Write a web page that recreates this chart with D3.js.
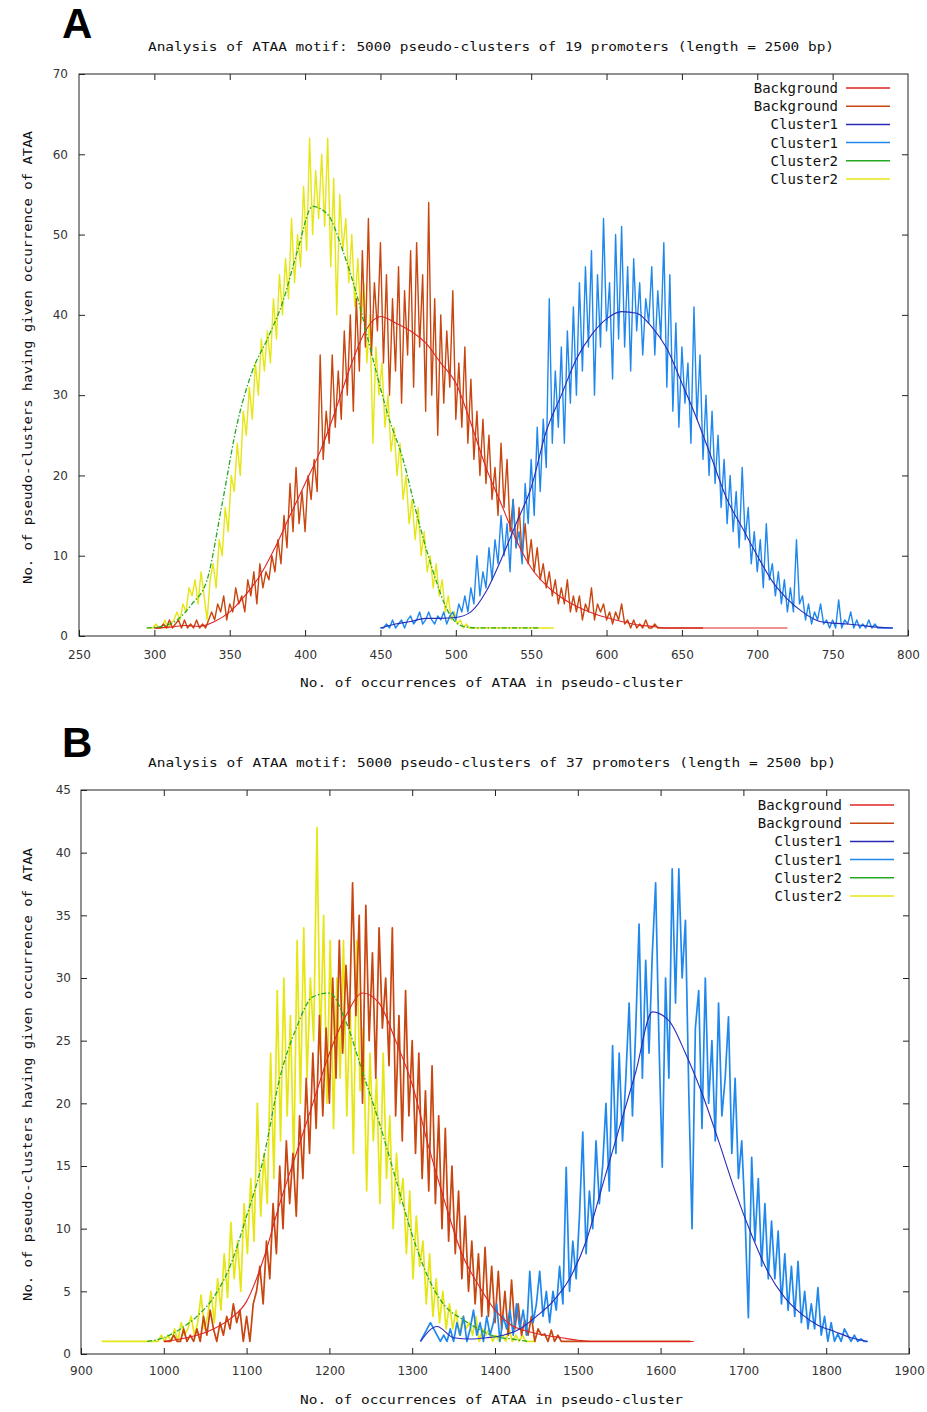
<!DOCTYPE html>
<html lang="en">
<head>
<meta charset="UTF-8">
<title>ATAA motif pseudo-clusters</title>
<script src="https://d3js.org/d3.v7.min.js"></script>
<style>
  body { margin: 0; background: #fff; }
  svg { display: block; }
  .tick text { font-family: "DejaVu Sans", sans-serif; font-size: 12px; fill: #333; }
  .tick line { stroke: #222; }
  .mono { font-family: "DejaVu Sans Mono", monospace; fill: #111; }
</style>
</head>
<body>
<svg width="927" height="1412"></svg>
<script>
// ---------- Panel A (19 promoters) ----------
const xTicksA = [250, 300, 350, 400, 450, 500, 550, 600, 650, 700, 750, 800];
const yTicksA = [0, 10, 20, 30, 40, 50, 60, 70];

// smooth curves, every 10 occurrences
const bgSmoothA = [1, 1.1, 1.3, 1.2, 1.8, 3, 5, 7.5, 11, 15,
  19, 23, 28, 33.5, 38, 39.8, 39, 38, 36.5, 34,
  31.5, 26.5, 21, 16.5, 12, 8.5, 6.3, 4.8, 3.7, 2.9,
  2.3, 1.8, 1.4, 1.2, 1, 1, 1, 1, 1, 1, 1, 1, 1];          // from 300
const c1SmoothA = [1, 1.5, 1.8, 2.2, 2.2, 2.3, 3, 5.5, 9.5, 14,
  18.5, 25.5, 30, 34.5, 37.5, 39.5, 40.4, 40.2, 38.5, 35.8,
  31.5, 27, 22, 17, 13.5, 10, 6.8, 4.6, 3, 1.9,
  1.6, 1.5, 1.3, 1.1, 1];                                  // from 450
const c2SmoothA = [1, 1.2, 2, 4, 7, 16.5, 26.5, 33, 37, 41.5,
  48, 53.5, 52.5, 48, 42, 34.5, 27.5, 22, 14.5, 8,
  3, 1.2, 1, 1, 1, 1, 1];                                  // from 295

// raw counts, every 2 occurrences
const bgRawA = [1, 1, 1, 1.5, 1, 2, 1, 1.5, 2, 1,
  2, 1, 1.5, 1, 2, 1, 1.5, 1, 2, 3,
  2, 4, 3, 5, 2, 4, 3, 6, 4, 5,
  3, 7, 5, 8, 4, 9, 6, 8, 7, 10,
  8, 12, 9, 15, 11, 19, 13, 21, 14, 18,
  13, 20, 17, 22, 18, 35, 22, 28, 24, 35,
  26, 33, 27, 38, 30, 40, 28, 42, 33, 48,
  36, 52, 35, 44, 38, 49, 34, 45, 30, 42,
  33, 46, 29, 43, 35, 48, 31, 49, 36, 45,
  28, 54, 30, 42, 25, 40, 29, 38, 31, 43,
  27, 34, 26, 36, 24, 32, 22, 28, 20, 27,
  19, 25, 17, 21, 15, 24, 16, 22, 13, 17,
  11, 16, 10, 14, 9, 12, 8, 11, 7, 9,
  6, 8, 5, 7, 4, 6, 4, 7, 3, 5,
  3, 5, 2, 4, 3, 6, 2, 4, 3, 4,
  2, 3, 1.5, 3, 2, 4, 1.5, 2, 1, 2,
  1, 1.5, 1, 2, 1, 1, 1.5, 1, 1, 1,
  1, 1, 1, 1, 1, 1, 1, 1, 1, 1, 1, 1, 1];                 // from 300
const c1RawA = [1, 1, 1.5, 1, 2, 1, 1.5, 2, 1, 2,
  2.5, 1.5, 2, 3, 1.5, 2, 3, 2, 1.5, 2.5,
  2, 3, 1.5, 2.5, 3, 2, 4, 3, 5, 3,
  6, 4, 10, 5, 8, 6, 11, 7, 12, 9,
  15, 10, 14, 8, 17, 11, 13, 9, 19, 14,
  22, 15, 26, 18, 27, 21, 42, 24, 33, 26,
  36, 24, 38, 29, 41, 30, 44, 33, 46, 36,
  48, 30, 45, 36, 52, 38, 44, 32, 50, 37,
  51, 36, 46, 33, 47, 38, 44, 35, 42, 39,
  46, 35, 43, 37, 49, 31, 45, 28, 39, 26,
  36, 29, 34, 24, 41, 27, 35, 22, 30, 20,
  28, 19, 25, 16, 22, 14, 20, 13, 18, 11,
  21, 12, 16, 9, 13, 8, 12, 6, 14, 7,
  9, 5, 8, 4, 7, 3, 6, 3, 12, 4,
  5, 2, 4, 1.5, 3, 2, 4, 1.5, 2, 1,
  2, 1, 4.5, 1, 2, 1.5, 3, 1, 2, 1,
  1.5, 1, 2, 1, 1.5, 1, 1, 1, 1, 1, 1];                   // from 450
const c2RawA = [1, 1, 1, 1.5, 1, 1, 2, 1, 1.5, 2,
  3, 2, 4, 3, 6, 5, 7, 4, 8, 5,
  2, 7, 9, 6, 12, 10, 16, 13, 20, 18,
  24, 20, 28, 25, 31, 27, 34, 30, 37, 33,
  38, 34, 42, 37, 45, 40, 47, 42, 52, 44,
  50, 46, 56, 48, 62, 50, 58, 52, 60, 51,
  62, 46, 57, 40, 55, 48, 52, 44, 50, 41,
  47, 39, 44, 34, 40, 24, 36, 30, 34, 26,
  30, 23, 26, 20, 24, 17, 20, 14, 17, 12,
  16, 10, 13, 8, 10, 6, 9, 5, 7, 3,
  5, 2, 3, 1.5, 2, 1, 1.5, 1, 1, 1,
  1, 1, 1, 1, 1, 1, 1, 1, 1, 1,
  1, 1, 1, 1, 1, 1, 1, 1, 1, 1, 1, 1, 1, 1, 1, 1];       // from 295

// ---------- Panel B (37 promoters) ----------
const xTicksB = [900, 1000, 1100, 1200, 1300, 1400, 1500, 1600, 1700, 1800, 1900];
const yTicksB = [0, 5, 10, 15, 20, 25, 30, 35, 40, 45];

// smooth curves, every 20 occurrences
const bgSmoothB = [1, 1.2, 1.5, 2, 2.8, 4.2, 7.5, 12, 16, 20,
  24, 27, 28.8, 28, 25, 21.5, 16.5, 12, 8, 5.5,
  3.5, 2.3, 1.8, 1.5, 1.3, 1.1, 1, 1, 1, 1, 1, 1, 1];     // from 1000
const c1SmoothB = [1, 2.2, 1.3, 1.2, 1.3, 1.5, 2, 3, 4.2, 6,
  9, 13.5, 18, 22.5, 27.3, 26.6, 24, 20.8, 17, 13,
  9.5, 6.5, 4.5, 3.2, 2.3, 1.8, 1.3, 1];                   // from 1310
const c2SmoothB = [1, 1.3, 2, 3, 4.5, 7, 11, 15.5, 22, 26,
  28.5, 28.8, 26.5, 22.5, 18.5, 14, 9.5, 6, 3.8, 2.8,
  2, 1.4, 1.2, 1];                                         // from 980

// raw counts, every 4 occurrences
const bgRawB = [1, 1, 1, 1.5, 1, 1, 2, 1, 1.5, 1,
  2, 1, 3, 1.5, 3.5, 2, 1, 2.5, 1.5, 3,
  2, 4, 2.5, 3.5, 1, 3, 1, 4, 5, 7,
  4, 9, 6, 12, 8, 15, 10, 17, 12, 16,
  11, 19, 14, 22, 16, 24, 18, 27, 19, 26,
  20, 30, 22, 33, 24, 31, 26, 37.6, 27, 35,
  20, 35.8, 25, 32, 22, 34, 26, 30, 23, 34,
  19, 27, 17, 29, 19, 25, 16, 24, 14, 21,
  13, 23, 12, 19, 10, 18, 9, 15, 8, 13,
  6, 11, 5, 9, 4, 8, 3, 8.5, 3, 7,
  2.5, 6.6, 2, 5, 1.5, 5.9, 2, 4, 1.5, 2.7,
  1.5, 3, 1, 2, 1.5, 1.6, 1, 1.9, 1, 1.5,
  1, 1, 1, 1, 1, 1, 1, 1, 1, 1,
  1, 1, 1, 1, 1, 1, 1, 1, 1, 1,
  1, 1, 1, 1, 1, 1, 1, 1, 1, 1,
  1, 1, 1, 1, 1, 1, 1, 1, 1, 1];                           // from 1000
const c1RawB = [1, 1.5, 2, 2.5, 2, 1.5, 1, 1.5, 1, 2,
  1, 2.5, 1.5, 3, 1, 2, 3.5, 1.5, 2.5, 1,
  3, 1.5, 2.5, 4, 1, 3, 2, 3.5, 1.5, 4,
  2, 3.5, 1.5, 6.6, 2.5, 4, 6.6, 3, 5, 2.5,
  5, 3.5, 7, 4, 14.9, 5, 9, 6, 11, 17.7,
  8, 13, 10, 17, 12, 15, 20, 13, 24.6, 16,
  24, 17, 22, 28, 19, 26, 34.3, 22, 31.4, 24,
  32, 37.6, 25, 14.9, 30, 22, 38.7, 28, 38.7, 30,
  34.6, 21, 10, 26, 29, 18, 30, 20, 25, 17,
  28, 19, 22, 26.9, 16, 22, 14, 17, 11, 2.9,
  15.7, 9, 14, 7, 12, 6, 10.6, 6, 9.8, 4,
  8, 3.5, 7, 3, 7.4, 2.5, 5, 2, 4, 2,
  5.3, 1.5, 3, 1, 2.5, 1, 1.6, 1, 2, 1.5,
  1, 1.5, 1, 1.2, 1, 1];                                   // from 1310
const c2RawB = [1, 1, 1, 1, 1, 1, 1, 1, 1, 1,
  1, 1, 1, 1, 1, 1, 1, 1, 1.5, 1,
  1.5, 1, 2, 1, 2.5, 1.5, 2, 3, 1.5, 2.5,
  4.7, 2, 3, 5, 2.5, 6, 3.5, 8, 4.5, 10.5,
  6, 9, 5, 12, 8, 14, 9, 20, 11, 16,
  12, 24, 14, 29, 17, 30, 19, 27, 15, 33,
  20, 34, 22, 30, 25, 42, 24, 35, 20, 33,
  18, 30, 22, 33, 19, 28, 16, 33, 21, 26,
  13, 24, 17, 22, 12, 24, 14, 19, 10, 16,
  12, 14, 8, 13, 6, 11, 7, 9, 4, 8,
  3, 6, 2.5, 5, 2, 4, 2, 3.5, 1.5, 3,
  2, 2.5, 1.5, 3, 1, 2, 1.5, 2, 1, 1.5,
  1, 1.5, 1, 2, 1, 1.5, 1, 1.5, 1, 1, 1, 1];             // from 925

const legendLabels = ["Background", "Background", "Cluster1", "Cluster1", "Cluster2", "Cluster2"];
const colors = {
  bgSmooth: "#e02424", bgRaw: "#c8460f",
  c1Smooth: "#2a2ab8", c1Raw: "#2088ec",
  c2Smooth: "#22aa22", c2Raw: "#e6e614"
};
const legendColors = [colors.bgSmooth, colors.bgRaw, colors.c1Smooth, colors.c1Raw, colors.c2Smooth, colors.c2Raw];

const svg = d3.select("svg");

function pts(start, step, values) {
  return values.map((v, i) => ({ x: start + i * step, y: v }));
}

function drawPanel(p) {
  const x = d3.scaleLinear()
    .domain([p.xTicks[0], p.xTicks[p.xTicks.length - 1]])
    .range([p.left, p.right]);
  const y = d3.scaleLinear()
    .domain([p.yTicks[0], p.yTicks[p.yTicks.length - 1]])
    .range([p.bottom, p.top]);

  const g = svg.append("g");

  g.append("clipPath").attr("id", "clip" + p.letter)
    .append("rect")
    .attr("x", p.left).attr("y", p.top)
    .attr("width", p.right - p.left).attr("height", p.bottom - p.top);

  // axes with inward ticks, gnuplot style
  g.append("g").attr("transform", `translate(0,${p.bottom})`)
    .call(d3.axisBottom(x).tickValues(p.xTicks).tickFormat(d3.format("d"))
      .tickSizeInner(-6).tickSizeOuter(0).tickPadding(p.xPad));
  g.append("g").attr("transform", `translate(0,${p.top})`)
    .call(d3.axisTop(x).tickValues(p.xTicks.slice(1, -1)).tickSizeInner(-6).tickSizeOuter(0).tickFormat(""));
  g.append("g").attr("transform", `translate(${p.left},0)`)
    .call(d3.axisLeft(y).tickValues(p.yTicks).tickSizeInner(-6).tickSizeOuter(0).tickPadding(p.yPad));
  g.append("g").attr("transform", `translate(${p.right},0)`)
    .call(d3.axisRight(y).tickValues(p.yTicks.slice(1, -1)).tickSizeInner(-6).tickSizeOuter(0).tickFormat(""));
  g.selectAll(".domain").remove();

  const plot = g.append("g").attr("clip-path", `url(#clip${p.letter})`);
  const raw = d3.line().x(d => x(d.x)).y(d => y(d.y));
  const smooth = d3.line().x(d => x(d.x)).y(d => y(d.y)).curve(d3.curveMonotoneX);

  p.series.forEach(s => {
    plot.append("path")
      .datum(s.data)
      .attr("fill", "none")
      .attr("stroke", s.color)
      .attr("stroke-width", s.width)
      .attr("stroke-dasharray", s.dash || null)
      .attr("stroke-linejoin", "round")
      .attr("d", s.smooth ? smooth : raw);
  });

  // frame
  g.append("rect")
    .attr("x", p.left).attr("y", p.top)
    .attr("width", p.right - p.left).attr("height", p.bottom - p.top)
    .attr("fill", "none").attr("stroke", "#222").attr("stroke-width", 1);

  // legend
  legendLabels.forEach((lab, i) => {
    const ly = p.legendY + i * 18.2;
    g.append("text").attr("class", "mono")
      .attr("x", p.legendX).attr("y", ly + 5)
      .attr("text-anchor", "end").attr("font-size", 14)
      .text(lab);
    g.append("line")
      .attr("x1", p.legendX + 8).attr("x2", p.legendX + 52)
      .attr("y1", ly).attr("y2", ly)
      .attr("stroke", legendColors[i]).attr("stroke-width", 1.5);
  });

  // titles
  g.append("text").attr("class", "mono")
    .attr("x", p.titleX).attr("y", p.titleY)
    .attr("font-size", 13).attr("textLength", p.titleLen).attr("lengthAdjust", "spacingAndGlyphs")
    .text(p.title);
  g.append("text").attr("class", "mono")
    .attr("x", 300).attr("y", p.xTitleY)
    .attr("font-size", 13).attr("textLength", 383).attr("lengthAdjust", "spacingAndGlyphs")
    .text("No. of occurrences of ATAA in pseudo-cluster");
  g.append("text").attr("class", "mono")
    .attr("transform", `translate(32,${p.yTitleBottom}) rotate(-90)`)
    .attr("font-size", 13).attr("textLength", 453).attr("lengthAdjust", "spacingAndGlyphs")
    .text("No. of pseudo-clusters having given occurrence of ATAA");

  g.append("text")
    .attr("x", 62).attr("y", p.letterY)
    .attr("font-family", "Liberation Sans, Arial, sans-serif")
    .attr("font-weight", "bold").attr("font-size", 42)
    .attr("fill", "#000")
    .text(p.letter);
}

drawPanel({
  letter: "A", letterY: 38,
  left: 79, right: 908, top: 74, bottom: 636,
  xTicks: xTicksA, yTicks: yTicksA, xPad: 14, yPad: 11,
  title: "Analysis of ATAA motif: 5000 pseudo-clusters of 19 promoters (length = 2500 bp)",
  titleX: 148, titleY: 51, titleLen: 686,
  xTitleY: 687, yTitleBottom: 584,
  legendX: 838, legendY: 88,
  series: [
    { data: pts(295, 2, c2RawA), color: colors.c2Raw, width: 1.4 },
    { data: pts(300, 2, bgRawA), color: colors.bgRaw, width: 1.4 },
    { data: pts(450, 2, c1RawA), color: colors.c1Raw, width: 1.4 },
    { data: pts(300, 10, bgSmoothA), color: colors.bgSmooth, width: 1.1, smooth: true },
    { data: pts(450, 10, c1SmoothA), color: colors.c1Smooth, width: 1.1, smooth: true },
    { data: pts(295, 10, c2SmoothA), color: colors.c2Smooth, width: 1.3, smooth: true, dash: "5,2,1.5,2" }
  ]
});

drawPanel({
  letter: "B", letterY: 757,
  left: 81, right: 909, top: 790, bottom: 1354,
  xTicks: xTicksB, yTicks: yTicksB, xPad: 12, yPad: 10,
  title: "Analysis of ATAA motif: 5000 pseudo-clusters of 37 promoters (length = 2500 bp)",
  titleX: 148, titleY: 767, titleLen: 688,
  xTitleY: 1404, yTitleBottom: 1301,
  legendX: 842, legendY: 805,
  series: [
    { data: pts(925, 4, c2RawB), color: colors.c2Raw, width: 1.7 },
    { data: pts(1000, 4, bgRawB), color: colors.bgRaw, width: 1.7 },
    { data: pts(1310, 4, c1RawB), color: colors.c1Raw, width: 1.7 },
    { data: pts(1000, 20, bgSmoothB), color: colors.bgSmooth, width: 1.1, smooth: true },
    { data: pts(1310, 20, c1SmoothB), color: colors.c1Smooth, width: 1.1, smooth: true },
    { data: pts(980, 20, c2SmoothB), color: colors.c2Smooth, width: 1.3, smooth: true, dash: "5,2,1.5,2" }
  ]
});
</script>
</body>
</html>
